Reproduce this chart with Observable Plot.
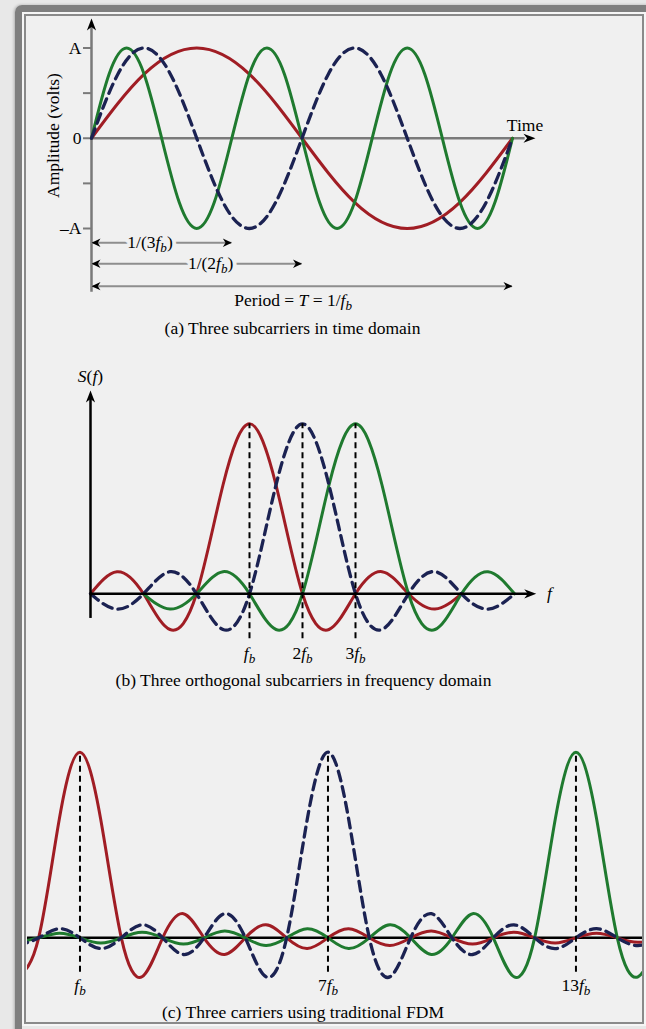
<!DOCTYPE html>
<html>
<head>
<meta charset="utf-8">
<script src="https://cdn.jsdelivr.net/npm/d3@7"></script>
<script src="https://cdn.jsdelivr.net/npm/@observablehq/plot@0.6"></script>
<style>
html, body { margin: 0; padding: 0; width: 646px; height: 1029px; overflow: hidden; background: #e8e8e8;
  font-family: "Liberation Serif", "Times New Roman", serif; }
#frame { position: absolute; left: 15px; top: 5px; width: 720px; height: 1100px; border: 7px solid #7f7f7f;
  border-radius: 7px; box-sizing: border-box; box-shadow: -1px 0 3px rgba(0,0,0,0.25); }
#inner { position: absolute; left: 24px; top: 14px; width: 620px; height: 1010px; border: 2px solid #8a8a8a;
  box-sizing: border-box; background: #f0f0f0; box-shadow: 0 0 0 2px #f6f6f6; }
.panel { position: absolute; left: 0; width: 646px; }
#pc { left: 27px; width: 615px; overflow: hidden; }
#pc svg { overflow: hidden !important; }
.cap { position: absolute; font-size: 17.5px; line-height: 17.5px; white-space: nowrap; transform: translateX(-50%); color: #000; }
</style>
</head>
<body>
<div id="frame"></div>
<div id="inner"></div>
<div class="panel" id="pa" style="top:0px"></div>
<div class="panel" id="pb" style="top:345px"></div>
<div class="panel" id="pc" style="top:700px"></div>
<div class="cap" id="capA" style="left:292.5px; top:320.3px"></div>
<div class="cap" id="capB" style="left:303.5px; top:672.3px"></div>
<div class="cap" id="capC" style="left:303px; top:1004.3px"></div>
<script>
// ================= DATA =================
// (a) three subcarriers in time domain: amplitude read every 1/8 cycle (units of A)
const sineProfile = [0, 0.71, 1, 0.71, 0, -0.71, -1, -0.71];
const timeSeries = ["f_b", "2f_b", "3f_b"];
const timeCycles = [1, 2, 3];                 // cycles within one period T
const spanEnds = [1 / 3, 1 / 2, 1];           // arrow spans, in units of T
const spanLabels = ["1/(3*f*_b)", "1/(2*f*_b)", "Period = *T* = 1/*f*_b"];
const ampTicks = [-1, -0.5, 0, 0.5, 1];
const ampTickLabels = ["–A", "", "0", "", "A"];

// spectrum shape S(f) read every half f_b from the peak outward (relative to peak)
const sincProfile = [1, 0.64, 0, -0.21, 0, 0.13, 0, -0.09, 0, 0.07, 0, -0.058, 0, 0.049, 0,
  -0.042, 0, 0.037, 0, -0.034, 0, 0.03, 0, -0.028, 0, 0.025, 0, -0.024, 0, 0.022, 0];

// (b) three orthogonal subcarriers (frequency in plotted units, 1 unit = f_b spacing)
const ofdmCenters = [3, 4, 5];
const ofdmStart = [0, 0, 1];
const ofdmEnd = [7, 8, 8];
const ofdmTickLabels = ["*f*_b", "2*f*_b", "3*f*_b"];

// (c) three carriers using traditional FDM (frequency in multiples of f_b)
const fdmCenters = [1, 7, 13];
const fdmStart = [-0.5, -0.5, -0.5];
const fdmEnd = [15, 15, 15];
const fdmTickLabels = ["*f*_b", "7*f*_b", "13*f*_b"];

const captions = ["(a) Three subcarriers in time domain",
  "(b) Three orthogonal subcarriers in frequency domain",
  "(c) Three carriers using traditional FDM"];

// ================= STYLES =================
const FONT = '"Liberation Serif", "Times New Roman", serif';
const FS = 17.5;
const BG = "#f0f0f0";
const AXGRAY = "#7a7a7a";
const ARGRAY = "#8e8e8e";
const seriesStyles = [
  {stroke: "#a01d24", strokeWidth: 3},
  {stroke: "#1b2252", strokeWidth: 3.3, strokeDasharray: "10,6"},
  {stroke: "#1f7a2f", strokeWidth: 3}
];
const drawOrder = [0, 2, 1];
const plotStyle = {fontFamily: FONT, fontSize: FS + "px", background: "transparent", color: "#000", overflow: "visible"};

function headSymbol(len, half) {
  return {draw(ctx) {
    ctx.moveTo(0, 0); ctx.lineTo(-len, -half); ctx.lineTo(-len * 0.7, 0); ctx.lineTo(-len, half); ctx.closePath();
  }};
}
const bigHead = headSymbol(12, 4.6);
const smallHead = headSymbol(9, 4.2);

// rich text: *x* italic, _b italic subscript
function richify(svg) {
  const ns = "http://www.w3.org/2000/svg";
  svg.querySelectorAll("text").forEach(t => {
    const s = t.textContent;
    if (!/[*_]/.test(s)) return;
    while (t.firstChild) t.removeChild(t.firstChild);
    const re = /\*([^*]+)\*|_([A-Za-z0-9])|([^*_]+)/g;
    let m, shifted = false;
    while ((m = re.exec(s))) {
      const ts = document.createElementNS(ns, "tspan");
      if (m[2]) {
        ts.textContent = m[2];
        ts.setAttribute("font-style", "italic");
        ts.setAttribute("font-size", (FS * 0.75) + "px");
        ts.setAttribute("dy", "4");
        shifted = true;
      } else {
        ts.textContent = m[1] || m[3];
        if (m[1]) ts.setAttribute("font-style", "italic");
        if (shifted) { ts.setAttribute("dy", "-4"); shifted = false; }
      }
      t.appendChild(ts);
    }
  });
  return svg;
}

// ================= PANEL (a) =================
const timeRows = [];
timeCycles.forEach((c, i) => {
  for (let k = 0; k <= 8 * c; k++) timeRows.push({s: i, t: k / (8 * c), v: sineProfile[k % 8]});
});
const spanRows = spanEnds.map((end, i) => ({i, end, label: spanLabels[i]}));
const spanRowY = [-1.158, -1.391, -1.639];
const spanLabelX = [0.139, 0.283, 0.479];

const plotA = Plot.plot({
  width: 646, height: 345,
  marginLeft: 91, marginRight: 134, marginTop: 47.5, marginBottom: 117,
  x: {domain: [0, 1], axis: null},
  y: {domain: [-1, 1]},
  style: plotStyle,
  marks: [
    Plot.ruleX([0], {y1: -1.705, y2: 1.25, stroke: AXGRAY, strokeWidth: 2.5}),
    Plot.ruleY([0], {x1: 0, x2: 1.03, stroke: AXGRAY, strokeWidth: 2.5}),
    Plot.axisY({ticks: ampTicks, tickFormat: (d) => ampTickLabels[ampTicks.indexOf(d)], tickSize: 8, tickPadding: 2,
      stroke: AXGRAY, strokeWidth: 2, label: null, fontSize: FS}),
    Plot.dot([0], {x: 0, y: 1.327, symbol: bigHead, rotate: -90, fill: "#000", stroke: "none"}),
    Plot.dot([0], {x: 1.0546, y: 0, symbol: bigHead, rotate: 0, fill: "#000", stroke: "none"}),
    Plot.text(["Time"], {x: 1.0297, y: 0, dy: -7, lineAnchor: "bottom", fontSize: FS}),
    Plot.text(["Amplitude (volts)"], {x: 0, y: 0.03, dx: -33, rotate: -90, lineAnchor: "bottom", fontSize: FS}),
    ...drawOrder.map(i => Plot.line(timeRows.filter(d => d.s === i), {x: "t", y: "v", curve: "natural", ...seriesStyles[i]})),
    Plot.ruleY(spanRows, {y: d => spanRowY[d.i], x1: 0, x2: "end", stroke: ARGRAY, strokeWidth: 2}),
    Plot.dot(spanRows, {x: 0, y: d => spanRowY[d.i], symbol: smallHead, rotate: 180, fill: "#000", stroke: "none"}),
    Plot.dot(spanRows, {x: "end", y: d => spanRowY[d.i], symbol: smallHead, rotate: 0, fill: "#000", stroke: "none"}),
    // background knock-out behind the inline labels, then the labels themselves
    Plot.text(spanRows.slice(0, 2), {x: d => spanLabelX[d.i], y: d => spanRowY[d.i], text: "label", lineAnchor: "middle",
      fontSize: FS, fill: BG, stroke: BG, strokeWidth: 8}),
    Plot.text(spanRows.slice(0, 2), {x: d => spanLabelX[d.i], y: d => spanRowY[d.i], text: "label", lineAnchor: "middle",
      fontSize: FS, fill: "#000"}),
    Plot.text(spanRows.slice(2), {x: d => spanLabelX[d.i], y: d => spanRowY[d.i], dy: 19.5, text: "label", lineAnchor: "bottom",
      fontSize: FS, fill: "#000"})
  ]
});
document.getElementById("pa").appendChild(richify(plotA));

// ================= PANEL (b) =================
function spectrumRows(centers, starts, ends) {
  const rows = [];
  centers.forEach((c, i) => {
    const n0 = Math.round((starts[i] - c) * 2), n1 = Math.round((ends[i] - c) * 2);
    for (let n = n0; n <= n1; n++) rows.push({s: i, f: c + n / 2, v: sincProfile[Math.abs(n)]});
  });
  return rows;
}
const ofdmRows = spectrumRows(ofdmCenters, ofdmStart, ofdmEnd);
const ofdmTicks = ofdmCenters.map((c, i) => ({c, label: ofdmTickLabels[i]}));

const plotB = Plot.plot({
  width: 646, height: 355,
  marginLeft: 90, marginRight: 132, marginTop: 78.3, marginBottom: 106.7,
  x: {domain: [0, 8], axis: null},
  y: {domain: [0, 1], axis: null},
  style: plotStyle,
  marks: [
    ...drawOrder.map(i => Plot.line(ofdmRows.filter(d => d.s === i), {x: "f", y: "v", curve: "natural", ...seriesStyles[i]})),
    Plot.ruleX([0], {y1: -0.145, y2: 1.16, stroke: "#000", strokeWidth: 2.5}),
    Plot.ruleY([0], {x1: 0, x2: 8.3, stroke: "#000", strokeWidth: 2.5}),
    Plot.dot([0], {x: 0, y: 1.196, symbol: bigHead, rotate: -90, fill: "#000", stroke: "none"}),
    Plot.dot([0], {x: 8.41, y: 0, symbol: bigHead, rotate: 0, fill: "#000", stroke: "none"}),
    Plot.ruleX(ofdmTicks, {x: "c", y1: -0.265, y2: 1, stroke: "#000", strokeWidth: 2, strokeDasharray: "6,4"}),
    Plot.text(ofdmTicks, {x: "c", y: -0.386, text: "label", lineAnchor: "bottom", fontSize: FS}),
    Plot.text(["*S*(*f*)"], {x: 0, y: 1.246, lineAnchor: "bottom", fontSize: FS}),
    Plot.text(["*f*"], {x: 8.66, y: 0, dy: 4.7, lineAnchor: "bottom", fontSize: FS})
  ]
});
document.getElementById("pb").appendChild(richify(plotB));

// ================= PANEL (c) =================
const fdmRows = spectrumRows(fdmCenters, fdmStart, fdmEnd);
const fdmTicks = fdmCenters.map((c, i) => ({c, label: fdmTickLabels[i]}));

const plotC = Plot.plot({
  width: 615, height: 329,
  marginLeft: 0, marginRight: 0, marginTop: 51.7, marginBottom: 91.7,
  x: {domain: [-0.27, 14.61], axis: null},
  y: {domain: [0, 1], axis: null},
  style: {...plotStyle, overflow: "hidden"},
  marks: [
    Plot.ruleY([0], {x1: -1, x2: 16, stroke: "#000", strokeWidth: 2.5}),
    ...drawOrder.map(i => Plot.line(fdmRows.filter(d => d.s === i), {x: "f", y: "v", curve: "natural", ...seriesStyles[i]})),
    Plot.ruleX(fdmTicks, {x: "c", y1: -0.185, y2: 1, stroke: "#000", strokeWidth: 2, strokeDasharray: "6,4"}),
    Plot.text(fdmTicks, {x: "c", y: -0.285, text: "label", lineAnchor: "bottom", fontSize: FS})
  ]
});
document.getElementById("pc").appendChild(richify(plotC));

// captions
["capA", "capB", "capC"].forEach((id, i) => { document.getElementById(id).textContent = captions[i]; });
</script>
</body>
</html>
